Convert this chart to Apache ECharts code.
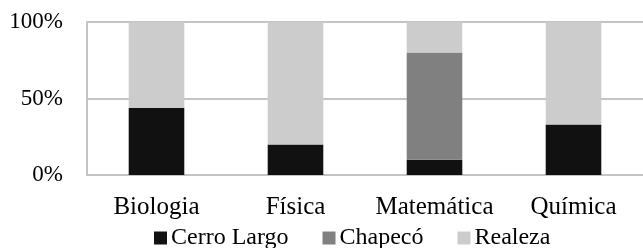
<!DOCTYPE html>
<html>
<head>
<meta charset="utf-8">
<script src="https://cdn.jsdelivr.net/npm/echarts@6/dist/echarts.min.js"></script>
<style>
  html, body { margin: 0; padding: 0; background: #fff; }
  #main { width: 643px; height: 248px; }
</style>
</head>
<body>
<div id="main"></div>
<script>
var categories = ['Biologia', 'Física', 'Matemática', 'Química'];
var cerroLargo = [44, 20, 10, 33];
var chapeco = [0, 0, 70, 0];
var realeza = [56, 80, 20, 67];

var myChart = echarts.init(document.getElementById('main'));
var font = '"Liberation Serif", "Times New Roman", serif';
var option = {
  animation: false,
  textStyle: { fontFamily: font },
  legend: {
      data: ['Cerro Largo', 'Chapecó', 'Realeza'],
      left: 149,
      top: 221,
      itemWidth: 13,
      itemHeight: 13,
      itemGap: 34,
      icon: 'rect',
      textStyle: { fontFamily: font, fontSize: 24, color: '#000', padding: [0, 0, 0, -1] }
  },
  grid: {
      left: 87,
      top: 22,
      width: 564,
      height: 153,
      show: false
  },
  xAxis: [
      {
          type: 'category',
          data: categories,
          axisLine: { show: true, lineStyle: { color: '#c4c4c4', width: 2 } },
          axisTick: { show: false },
          axisLabel: { fontFamily: font, fontSize: 25, color: '#000', margin: 20, interval: 0 }
      }
  ],
  yAxis: [
      {
          type: 'value',
          min: 0,
          max: 100,
          interval: 50,
          axisLine: { show: true, lineStyle: { color: '#c4c4c4', width: 2 } },
          axisTick: { show: false },
          splitLine: { lineStyle: { color: '#c4c4c4', width: 2 } },
          axisLabel: { fontFamily: font, fontSize: 23, color: '#000', margin: 24, formatter: '{value}%' }
      }
  ],
  series: [
      {
          name: 'Cerro Largo',
          type: 'bar',
          stack: 'total',
          barWidth: '40%',
          itemStyle: { color: '#111111' },
          data: cerroLargo
      },
      {
          name: 'Chapecó',
          type: 'bar',
          stack: 'total',
          itemStyle: { color: '#808080' },
          data: chapeco
      },
      {
          name: 'Realeza',
          type: 'bar',
          stack: 'total',
          itemStyle: { color: '#cccccc' },
          data: realeza
      }
  ]
};

myChart.setOption(option);
</script>
</body>
</html>
